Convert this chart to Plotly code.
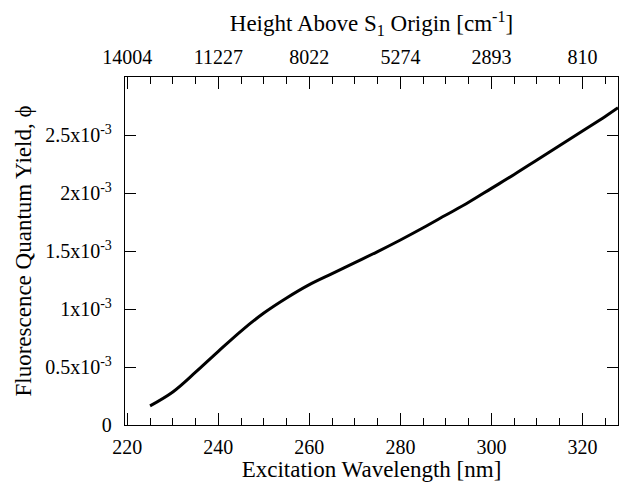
import plotly.graph_objects as go

wavelength = [225, 230, 235, 240, 245, 250, 255, 260, 265, 270, 275, 280,
              285, 290, 295, 300, 305, 310, 315, 320, 325, 327.8]
phi_e3 = [0.165, 0.285, 0.455, 0.635, 0.81, 0.965, 1.095, 1.21, 1.305, 1.40, 1.495, 1.595,
          1.70, 1.81, 1.92, 2.04, 2.16, 2.285, 2.41, 2.535, 2.66, 2.735]
phi = [v * 1e-3 for v in phi_e3]

x_ticks = [220, 240, 260, 280, 300, 320]
x_minor = list(range(225, 330, 5))
top_labels = ["14004", "11227", "8022", "5274", "2893", "810"]
y_ticks = [0, 0.5e-3, 1e-3, 1.5e-3, 2e-3, 2.5e-3]
y_labels = ["0", "0.5x10<sup>-3</sup>", "1x10<sup>-3</sup>", "1.5x10<sup>-3</sup>",
            "2x10<sup>-3</sup>", "2.5x10<sup>-3</sup>"]

font = "Liberation Serif"
fig = go.Figure()
fig.add_trace(go.Scatter(x=wavelength, y=phi, mode="lines",
                         line=dict(color="black", width=3, shape="spline", smoothing=1.0),
                         showlegend=False))
fig.add_trace(go.Scatter(x=wavelength, y=phi, mode="lines", line=dict(color="rgba(0,0,0,0)"),
                         xaxis="x2", showlegend=False, hoverinfo="skip"))

xr = [219.5, 327.8]
common = dict(range=xr, showgrid=False, zeroline=False, showline=True, linecolor="black", linewidth=1.3,
              ticks="inside", ticklen=12, tickwidth=1.2, tickcolor="black",
              tickmode="array", tickvals=x_ticks,
              minor=dict(ticks="inside", ticklen=7, tickwidth=1.1, tickcolor="black",
                         tickmode="array", tickvals=x_minor, showgrid=False),
              tickfont=dict(family=font, size=20, color="black"))
fig.update_layout(
    width=619, height=482,
    margin=dict(l=125, r=1, t=77, b=57),
    paper_bgcolor="white", plot_bgcolor="white",
    font=dict(family=font, color="black"),
    xaxis=dict(**common, ticktext=[str(v) for v in x_ticks], ticklabelstandoff=4,
               title=dict(text="Excitation Wavelength [nm]", font=dict(family=font, size=23), standoff=2)),
    xaxis2=dict(**common, ticktext=top_labels, overlaying="x", side="top", anchor="y", ticklabelstandoff=4,
                title=dict(text="Height Above S<sub>1</sub> Origin [cm<sup>-1</sup>]", font=dict(family=font, size=23), standoff=7)),
    yaxis=dict(range=[0, 3e-3], showgrid=False, zeroline=False, showline=True, linecolor="black", linewidth=1.3,
               mirror="ticks", ticks="inside", ticklen=11, tickwidth=1.2, tickcolor="black",
               tickmode="array", tickvals=y_ticks, ticktext=y_labels, ticklabelstandoff=8,
               tickfont=dict(family=font, size=20, color="black"),
               title=dict(text="Fluorescence Quantum Yield, \u03d5", font=dict(family=font, size=23), standoff=7)),
)
fig.write_html("out.html")
